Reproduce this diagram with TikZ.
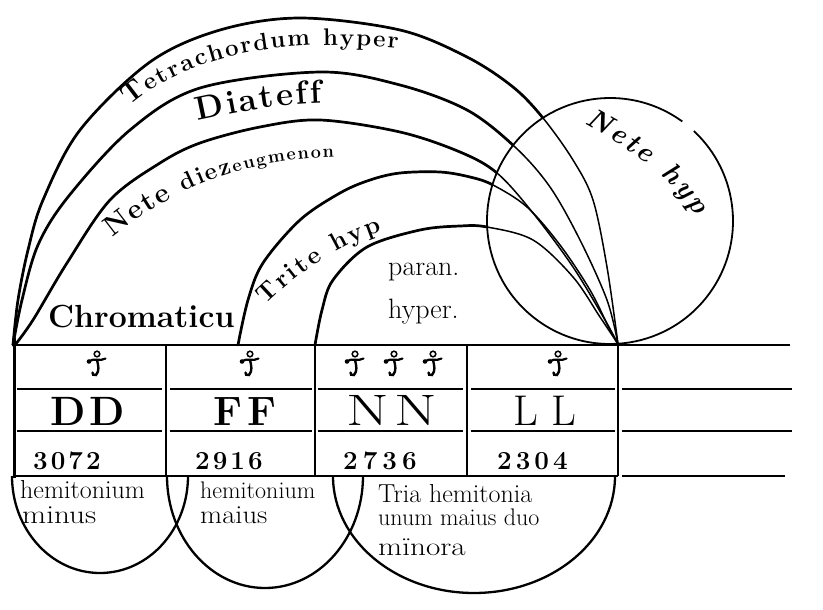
\documentclass[tikz,border=0pt]{standalone}
\usepackage{fontspec}
\usetikzlibrary{decorations.text}
\newcommand\fsz[1]{\fontsize{#1}{#1}\selectfont}
\begin{document}
\begin{tikzpicture}[x=1pt,y=-1pt,
  every node/.style={inner sep=0pt},
  lab/.style={anchor=base west},
  thickarc/.style={line width=2.7pt, line cap=round, line join=round},
  thinarc/.style={line width=1.5pt, line cap=round, line join=round},
  rule/.style={line width=2.2pt},
  lowarc/.style={line width=2.3pt},
  pathA/.style={insert path={plot[smooth,tension=0.55] coordinates {(13,345) (18,300) (28,250) (43,200) (80,130) (150,62) (220,30) (300,18) (400,30) (467,57) (513,87) (543,118) (573,160) (593,200) (607,267) (618,344)}}},
  pathB/.style={insert path={plot[smooth,tension=0.55] coordinates {(13,345) (22,300) (38,245) (68,197) (130,130) (200,88) (320,72) (400,85) (467,110) (515,147) (550,187) (580,240) (607,300) (618,344)}}},
  pathC/.style={insert path={plot[smooth,tension=0.55] coordinates {(15,345) (33,320) (67,263) (110,200) (160,163) (200,143) (260,127) (320,120) (400,132) (460,152) (497,173) (533,213) (573,267) (605,320) (618,344)}}},
  pathD/.style={insert path={plot[smooth,tension=0.55] coordinates {(238,345) (248,300) (263,263) (300,220) (340,193) (370,180) (400,173) (440,172) (470,177) (493,185) (527,207) (560,245) (590,290) (610,330) (618,344)}}},
  pathE/.style={insert path={plot[smooth,tension=0.55] coordinates {(315,345) (322,310) (333,280) (367,247) (420,230) (460,226) (487,227) (533,240) (573,277) (600,317) (618,344)}}},
  sign/.pic={
    \draw[line width=1.5pt] (0,-10) circle[radius=2.8];
    \draw[line width=2.2pt, line cap=round] (-7.5,-3) .. controls (-3,-6.5) and (3,-2) .. (8.5,-5.5);
    \fill (-8,-2.5) circle[radius=2.3];
    \draw[line width=2.4pt, line cap=round] (0,-4) .. controls (1.5,2) and (2.5,7) .. (-1,11) .. controls (-3,12) and (-5.5,10) .. (-4.5,8.5);
  }
]
\useasboundingbox (0,0) rectangle (823,610);
\coordinate (O) at (610,221);

% arcs: thin everywhere, thick outside the circle
\draw[thinarc] [pathA];
\draw[thinarc] [pathB];
\draw[thinarc] [pathC];
\draw[thinarc] [pathD];
\draw[thinarc] [pathE];
\begin{scope}[even odd rule]
  \clip (-10,-10) rectangle (833,620) (610,221) circle[radius=123];
  \draw[thickarc] [pathA];
  \draw[thickarc] [pathB];
  \draw[thickarc] [pathC];
  \draw[thickarc] [pathD];
  \draw[thickarc] [pathE];
\end{scope}

% circle Nete hyp (with a small gap)
\draw[line width=1.8pt] ([shift={(-54:123)}]O) arc[start angle=-54, end angle=-407, radius=123];

% labels along arcs
\path[decorate, decoration={text along path, text align=fit to path,
  text={|\bfseries\fsz{28}|T|\bfseries\fsz{24}|etrachordum hyper}}]
  (130,106) .. controls (182,62) and (262,36) .. (398,48);
\path[decorate, decoration={text along path, text align=fit to path,
  text={|\bfseries\fsz{33}|Diateff}}]
  (198,121) .. controls (240,112) and (280,104) .. (322,103);
\path[decorate, decoration={text along path, text align=fit to path,
  text={|\bfseries\fsz{28}|Nete |\bfseries\fsz{24}|diez|\bfseries\fsz{18}|eugmenon}}]
  (113,238) .. controls (160,200) and (225,160) .. (334,157);
\path[decorate, decoration={text along path, text align=fit to path,
  text={|\bfseries\fsz{25}|Trite hyp}}]
  (266,305) .. controls (300,272) and (335,247) .. (382,231);
\path[decorate, decoration={text along path, text align=fit to path,
  text={|\bfseries\itshape\fsz{28}|Nete hyp}}]
  (584,124) .. controls (621,144) and (665,170) .. (696,216);

\node[lab] (chrom) at (48,327) {\bfseries\fsz{32}Chromaticu};
\node[lab] (paran) at (388,275) {\fsz{28}paran.};
\node[lab] (hyperlab) at (388,318) {\fsz{28}hyper.};

% table
\draw[rule] (14,345) -- (790,345);
\draw[line width=3pt] (14,338) -- (14,478);
\foreach \x in {166,315,467,618} \draw[rule] (\x,345) -- (\x,476);
\draw[rule] (14,476) -- (618,476);
\draw[rule] (622,476) -- (785,476);
\foreach \y in {389,431} {
  \foreach \a/\b in {17/162, 170/312, 318/463, 471/615, 622/792}
    \draw[rule] (\a,\y) -- (\b,\y);
}

% signs
\pic (s1) at (97,364) {sign};
\pic (s2) at (250,364) {sign};
\pic (s3) at (355,364) {sign};
\pic (s4) at (394,364) {sign};
\pic (s5) at (433,364) {sign};
\pic (s6) at (558,364) {sign};

% letters
\node[anchor=base] (dd) at (88,425) {\fsz{41}\bfseries D\kern4pt D};
\node[anchor=base] (ff) at (245,425) {\fsz{41}\bfseries F\kern5pt F};
\node[anchor=base] (nn) at (392,425) {\fsz{44}\scalebox{1.4}[1]{N\kern4pt N}};
\node[anchor=base] (ll) at (545,425) {\fsz{43}L\kern14pt L};

% numbers
\node[lab] (n1) at (33,469) {\bfseries\fsz{26}3\kern3pt 0\kern3pt 7\kern3pt 2};
\node[lab] (n2) at (195,469) {\bfseries\fsz{26}2\kern3pt 9\kern3pt 1\kern3pt 6};
\node[lab] (n3) at (343,469) {\bfseries\fsz{26}2\kern5pt 7\kern5pt 3\kern5pt 6};
\node[lab] (n4) at (497,469) {\bfseries\fsz{26}2\kern4pt 3\kern4pt 0\kern4pt 4};

% lower arcs
\draw[lowarc] (12,476) arc[start angle=180, end angle=0, x radius=88, y radius=97];
\draw[lowarc] (167,476) arc[start angle=180, end angle=0, x radius=98, y radius=112];
\draw[lowarc] (333,476) arc[start angle=180, end angle=0, x radius=141, y radius=117];

% lower texts
\node[lab] (h1) at (20,498) {\fsz{26}hemitonium};
\node[lab] (h1b) at (22,523) {\fsz{26}\scalebox{1.2}[1]{minus}};
\node[lab] (h2) at (200,498) {\fsz{24}hemitonium};
\node[lab] (h2b) at (200,523) {\fsz{26}\scalebox{1.1}[1]{maius}};
\node[lab] (t1) at (378,502) {\fsz{26}Tria hemitonia};
\node[lab] (t2) at (378,525) {\fsz{24}unum maius duo};
\node[lab] (t3) at (378,555) {\fsz{26}\scalebox{1.2}[1]{mïnora}};
\end{tikzpicture}
\end{document}
